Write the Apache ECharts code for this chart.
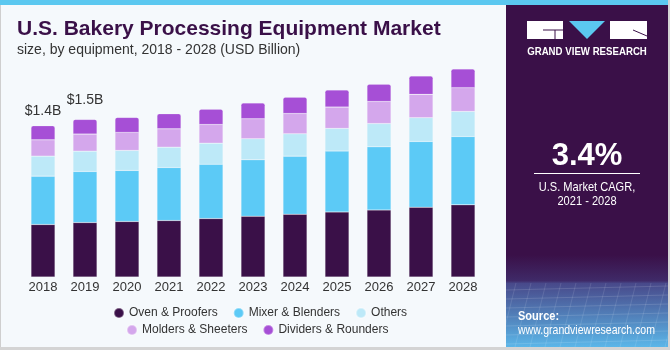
<!DOCTYPE html>
<html>
<head>
<meta charset="utf-8">
<script src="https://cdn.jsdelivr.net/npm/echarts@6/dist/echarts.min.js"></script>
<style>
  html, body { margin: 0; padding: 0; background: #f5f9fc; }
  #chart { width: 670px; height: 350px; }
</style>
</head>
<body>
<div id="chart"></div>
<script>
// 年份
const years = ['2018', '2019', '2020', '2021', '2022', '2023', '2024', '2025', '2026', '2027', '2028'];
// 各设备类型 (USD Billion)
const ovenProofers = [0.486, 0.504, 0.514, 0.523, 0.541, 0.563, 0.581, 0.603, 0.621, 0.646, 0.668];
const mixerBlenders = [0.448, 0.473, 0.473, 0.491, 0.503, 0.522, 0.538, 0.563, 0.584, 0.609, 0.633];
const others = [0.185, 0.188, 0.185, 0.188, 0.195, 0.195, 0.207, 0.210, 0.216, 0.220, 0.232];
const moldersSheeters = [0.151, 0.158, 0.167, 0.170, 0.173, 0.185, 0.188, 0.197, 0.204, 0.216, 0.220];
const dividersRounders = [0.130, 0.136, 0.139, 0.139, 0.142, 0.146, 0.151, 0.158, 0.160, 0.170, 0.173];
// 柱顶标注
const totalLabels = ['$1.4B', '$1.5B'];

const FONT = '"Liberation Sans", Arial, sans-serif';

const seriesConfig = [
  { name: 'Oven & Proofers', data: ovenProofers, color: '#3a1048' },
  { name: 'Mixer & Blenders', data: mixerBlenders, color: '#5ccaf6' },
  { name: 'Others', data: others, color: '#bde9f8' },
  { name: 'Molders & Sheeters', data: moldersSheeters, color: '#d4a7ec' },
  { name: 'Dividers & Rounders', data: dividersRounders, color: '#a64fd6' }
];

const chart = echarts.init(document.getElementById('chart'), null, { renderer: 'canvas' });

const series = seriesConfig.map((s, idx) => {
  const isTop = idx === seriesConfig.length - 1;
  return {
    name: s.name,
    type: 'bar',
    stack: 'total',
    barWidth: 24,
    itemStyle: {
      color: s.color,
      borderColor: 'rgba(255,255,255,0.35)',
      borderWidth: 0.5,
      borderRadius: isTop ? [2, 2, 0, 0] : 0
    },
    data: isTop
      ? s.data.map((v, i) => i < totalLabels.length
        ? {
          value: v,
          label: {
            show: true,
            position: 'top',
            distance: i === 0 ? 8 : 12,
            formatter: totalLabels[i],
            fontSize: 14,
            color: '#333',
            fontFamily: FONT
          }
        }
        : v)
      : s.data
  };
});

const legendCommon = {
  icon: 'circle',
  itemWidth: 10,
  itemHeight: 10,
  itemGap: 15,
  textStyle: { fontSize: 12, color: '#333', fontFamily: FONT }
};

// 右侧面板里的网格纹理
const gridLines = [];
for (let k = 0; k < 7; k++) {
  const y = 290 + k * 9;
  gridLines.push({
    type: 'line',
    shape: { x1: 506, y1: y, x2: 668, y2: y - 4 },
    style: { stroke: 'rgba(255,255,255,0.13)', lineWidth: 1 },
    silent: true,
    z: 2
  });
}
for (let k = 0; k < 12; k++) {
  const x = 506 + k * 15;
  gridLines.push({
    type: 'line',
    shape: { x1: x + 10, y1: 283, x2: x - 6, y2: 347 },
    style: { stroke: 'rgba(255,255,255,0.11)', lineWidth: 1 },
    silent: true,
    z: 2
  });
}

// 窄字体用 scaleX 模拟
const panelText = (text, x, y, font, align, sx) => ({
  type: 'text', x, y, z: 5, scaleX: sx,
  style: { text, fill: '#ffffff', font: font + ' ' + FONT, align, verticalAlign: 'middle' }
});

const option = {
  backgroundColor: '#f5f9fc',
  animation: false,
  title: [
    {
      text: 'U.S. Bakery Processing Equipment Market',
      left: 17,
      top: 19,
      padding: 0,
      textStyle: { fontSize: 21, fontWeight: 'bold', color: '#3a1048', fontFamily: FONT }
    },
    {
      text: 'size, by equipment, 2018 - 2028 (USD Billion)',
      left: 17,
      top: 43,
      padding: 0,
      textStyle: { fontSize: 14, fontWeight: 'normal', color: '#333', fontFamily: FONT }
    }
  ],
  grid: { left: 22, right: 186, top: 61, bottom: 73 },
  legend: [
    Object.assign({ data: ['Oven & Proofers', 'Mixer & Blenders', 'Others'], left: 108, top: 302 }, legendCommon),
    Object.assign({ data: ['Molders & Sheeters', 'Dividers & Rounders'], left: 121, top: 319 }, legendCommon)
  ],
  xAxis: {
    type: 'category',
    data: years,
    axisLine: { show: false },
    axisTick: { show: false },
    axisLabel: { fontSize: 13, color: '#333', margin: 4, fontFamily: FONT }
  },
  yAxis: {
    type: 'value',
    min: 0,
    max: 2,
    show: false,
    splitLine: { show: false }
  },
  graphic: [
    // 外框
    { type: 'rect', shape: { x: 0, y: 0, width: 1, height: 350 }, style: { fill: '#cfcfcf' }, z: 1 },
    { type: 'rect', shape: { x: 0, y: 347, width: 670, height: 3 }, style: { fill: '#d4d4d4' }, z: 1 },
    { type: 'rect', shape: { x: 0, y: 0, width: 670, height: 5 }, style: { fill: '#5bc8f0' }, z: 3 },
    // 右侧面板
    { type: 'rect', shape: { x: 506, y: 5, width: 162, height: 342 }, style: { fill: '#3a1048' }, z: 1 },
    {
      type: 'rect',
      shape: { x: 506, y: 255, width: 162, height: 92 },
      style: {
        fill: new echarts.graphic.LinearGradient(0, 0, 0, 1, [
          { offset: 0, color: '#3a1048' },
          { offset: 0.28, color: '#3f2a68' },
          { offset: 0.31, color: '#48498a' },
          { offset: 1, color: '#5bb6e8' }
        ])
      },
      z: 1
    },
    { type: 'rect', shape: { x: 668, y: 0, width: 2, height: 350 }, style: { fill: '#d4d4d4' }, z: 3 },
    ...gridLines,
    // logo
    { type: 'rect', shape: { x: 527, y: 21, width: 36, height: 18 }, style: { fill: '#ffffff' }, z: 4 },
    { type: 'line', shape: { x1: 543, y1: 30, x2: 563, y2: 30 }, style: { stroke: '#3a1048', lineWidth: 1 }, z: 5 },
    { type: 'line', shape: { x1: 555, y1: 30, x2: 555, y2: 39 }, style: { stroke: '#3a1048', lineWidth: 1 }, z: 5 },
    { type: 'polygon', shape: { points: [[569, 21], [605, 21], [587, 39]] }, style: { fill: '#5bc8f0' }, z: 4 },
    { type: 'rect', shape: { x: 610, y: 21, width: 37, height: 18 }, style: { fill: '#ffffff' }, z: 4 },
    { type: 'line', shape: { x1: 633, y1: 30, x2: 647, y2: 36 }, style: { stroke: '#3a1048', lineWidth: 1 }, z: 5 },
    panelText('GRAND VIEW RESEARCH', 587, 52, 'bold 10.5px', 'center', 0.92),
    panelText('3.4%', 587, 156, 'bold 31px', 'center', 1),
    { type: 'line', shape: { x1: 534, y1: 173.5, x2: 640, y2: 173.5 }, style: { stroke: '#ffffff', lineWidth: 1 }, z: 5 },
    panelText('U.S. Market CAGR,', 587, 187, '13.5px', 'center', 0.82),
    panelText('2021 - 2028', 587, 201, '13.5px', 'center', 0.82),
    panelText('Source:', 518, 316, 'bold 13px', 'left', 0.85),
    panelText('www.grandviewresearch.com', 518, 330, '13px', 'left', 0.81)
  ],
  series
};

chart.setOption(option);
</script>
</body>
</html>
